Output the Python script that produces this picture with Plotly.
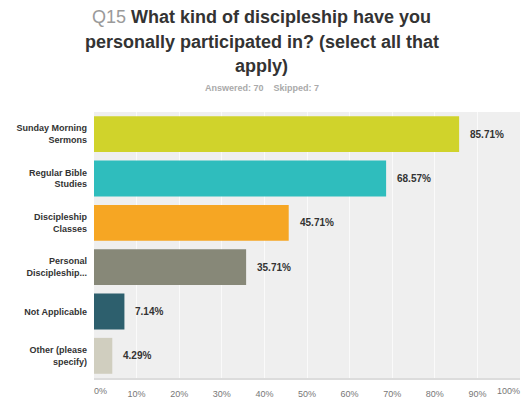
import plotly.graph_objects as go

# Survey responses (percent of respondents), top to bottom
categories = [
    "Sunday Morning<br>Sermons",
    "Regular Bible<br>Studies",
    "Discipleship<br>Classes",
    "Personal<br>Discipleship...",
    "Not Applicable",
    "Other (please<br>specify)",
]
percents = [85.71, 68.57, 45.71, 35.71, 7.14, 4.29]
bar_colors = ["#d0d32b", "#2fbdbd", "#f6a623", "#878878", "#2d5f6d", "#d0cebf"]
tick_values = [0, 10, 20, 30, 40, 50, 60, 70, 80, 90, 100]
tick_labels = [f"{v}%" for v in tick_values]

question_no = "Q15"
title_lines = [
    "What kind of discipleship have you",
    "personally participated in? (select all that",
    "apply)",
]
answered, skipped = 70, 7

W, H = 523, 402
M = dict(l=94, r=3, t=112, b=24)
FONT = "Liberation Sans, Arial, sans-serif"


def px_x(p):
    """pixel column -> paper x fraction"""
    return (p - M["l"]) / (W - M["l"] - M["r"])


def px_y(p):
    """pixel row (from top) -> paper y fraction"""
    return (H - M["b"] - p) / (H - M["t"] - M["b"])


fig = go.Figure(
    go.Bar(
        x=percents,
        y=categories,
        orientation="h",
        marker=dict(color=bar_colors, line=dict(width=0)),
        hoverinfo="skip",
    )
)

# empty traces so the two overlay axes (end tick labels) get drawn
for ax in ("x2", "x3"):
    fig.add_trace(go.Scatter(x=[None], y=[None], xaxis=ax, yaxis="y",
                             mode="markers", hoverinfo="skip", showlegend=False))

# value labels just past the end of each bar
for cat, val in zip(categories, percents):
    fig.add_annotation(
        x=val, y=cat, xref="x", yref="y",
        text=f"<b>{val:.2f}%</b>", showarrow=False,
        xanchor="left", xshift=9,
        font=dict(family=FONT, size=10, color="#333333"),
    )

# three-line heading, centred on the page
title_texts = [f"<span style='color:#9a9a9a'>{question_no}</span> <b>{title_lines[0]}</b>"] + \
              [f"<b>{t}</b>" for t in title_lines[1:]]
for text, row in zip(title_texts, [17, 42, 66]):
    fig.add_annotation(
        x=px_x(W / 2), y=px_y(row), xref="paper", yref="paper",
        text=text, showarrow=False, xanchor="center", yanchor="middle",
        font=dict(family=FONT, size=18, color="#333333"),
    )

fig.add_annotation(
    x=px_x(W / 2), y=px_y(88), xref="paper", yref="paper",
    text=f"<b>Answered: {answered}    Skipped: {skipped}</b>",
    showarrow=False, xanchor="center", yanchor="middle",
    font=dict(family=FONT, size=9, color="#aaaaaa"),
)

tick_font = dict(family=FONT, size=9, color="#777777")
common_x = dict(range=[0, 100], zeroline=False, ticks="", tickfont=tick_font,
                fixedrange=True, automargin=False)

fig.update_layout(
    width=W, height=H,
    margin=M,
    paper_bgcolor="white",
    plot_bgcolor="#efefef",
    bargap=0.19,
    showlegend=False,
    xaxis=dict(
        **common_x,
        tickvals=tick_values[1:-1], ticktext=tick_labels[1:-1],
        ticklabelstandoff=6,
        showgrid=True, gridcolor="#fafafa", gridwidth=1,
        showline=True, linecolor="#dcdcdc", linewidth=2,
    ),
    # end labels sit inside the plot width: 0% to the right, 100% to the left
    xaxis2=dict(
        **common_x, overlaying="x", anchor="y", side="bottom",
        tickvals=tick_values[:1], ticktext=tick_labels[:1],
        ticklabelposition="outside right", ticklabelstandoff=6,
        showgrid=False, showline=False,
    ),
    xaxis3=dict(
        **common_x, overlaying="x", anchor="y", side="bottom",
        tickvals=tick_values[-1:], ticktext=tick_labels[-1:],
        ticklabelposition="outside left", ticklabelstandoff=6,
        showgrid=True, gridcolor="#fafafa", showline=False,
    ),
    yaxis=dict(
        autorange="reversed", showgrid=False, zeroline=False,
        ticks="", ticklabelstandoff=6, automargin=False,
        tickvals=categories, ticktext=[f"<b>{c}</b>" for c in categories],
        tickfont=dict(family=FONT, size=9, color="#333333"),
        fixedrange=True,
    ),
)

fig.write_html("out.html")
